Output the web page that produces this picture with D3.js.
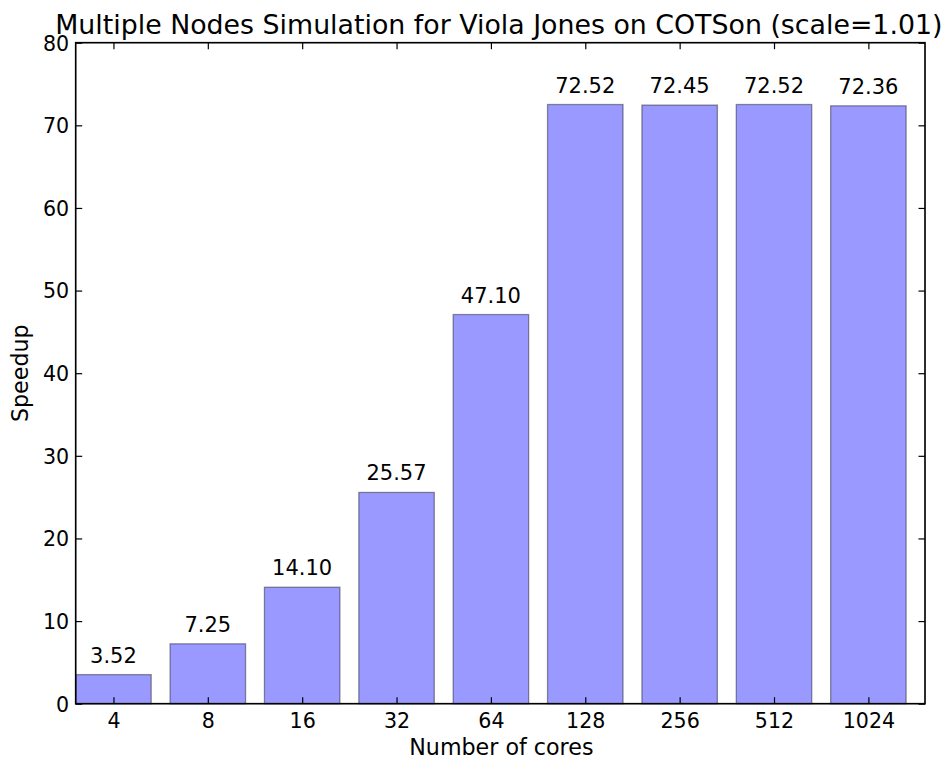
<!DOCTYPE html>
<html>
<head>
<meta charset="utf-8">
<script src="https://d3js.org/d3.v7.min.js"></script>
<style>
  html, body { margin: 0; padding: 0; background: #fff; }
  text { font-family: "DejaVu Sans", sans-serif; fill: #000; }
</style>
</head>
<body>
<svg id="chart" width="950" height="758"></svg>
<script>
// Speedup measured for each core count
const cores = ["4", "8", "16", "32", "64", "128", "256", "512", "1024"];
const speedup = [3.52, 7.25, 14.10, 25.57, 47.10, 72.52, 72.45, 72.52, 72.36];
const yTicks = [0, 10, 20, 30, 40, 50, 60, 70, 80];

const titleText = "Multiple Nodes Simulation for Viola Jones on COTSon (scale=1.01)";
const xLabelText = "Number of cores";
const yLabelText = "Speedup";

const svg = d3.select("#chart");
const plot = { left: 75.7, right: 925, top: 42.7, bottom: 703.7 };
const tickLen = 6.5;

// Bars centred on integer positions, width 0.8, with the usual margins
const x = d3.scaleLinear().domain([-0.4, cores.length - 0.4]).range([plot.left, plot.right]);
const y = d3.scaleLinear().domain([0, 80]).range([plot.bottom, plot.top]);
const barW = x(0.8) - x(0);

// bars
svg.append("g").selectAll("rect")
  .data(speedup)
  .join("rect")
  .attr("x", (d, i) => x(i - 0.4))
  .attr("y", d => y(d))
  .attr("width", barW)
  .attr("height", d => y(0) - y(d))
  .attr("fill", "blue")
  .attr("fill-opacity", 0.4)
  .attr("stroke", "black")
  .attr("stroke-opacity", 0.4)
  .attr("stroke-width", 1.3);

// value labels above bars
svg.append("g").selectAll("text")
  .data(speedup)
  .join("text")
  .attr("x", (d, i) => x(i))
  .attr("y", d => y(d) - 12)
  .attr("text-anchor", "middle")
  .style("font-size", "21px")
  .text(d => d.toFixed(2));

// axes with inward ticks on all four sides
const idx = d3.range(cores.length);
const bottomAxis = d3.axisBottom(x).tickValues(idx).tickFormat(i => cores[i])
  .tickSizeInner(-tickLen).tickSizeOuter(0).tickPadding(8);
const topAxis = d3.axisTop(x).tickValues(idx).tickFormat("")
  .tickSizeInner(-tickLen).tickSizeOuter(0);
const leftAxis = d3.axisLeft(y).tickValues(yTicks).tickFormat(d3.format("d"))
  .tickSizeInner(-tickLen).tickSizeOuter(0).tickPadding(6.5);
const rightAxis = d3.axisRight(y).tickValues(yTicks).tickFormat("")
  .tickSizeInner(-tickLen).tickSizeOuter(0);

function styleAxis(g) {
  g.select(".domain").remove();
  g.selectAll(".tick line").attr("stroke", "#000").attr("stroke-width", 1.2);
  g.selectAll(".tick text").style("font-size", "20.6px").attr("fill", "#000")
    .style("font-family", "DejaVu Sans, sans-serif");
}

svg.append("g").attr("transform", `translate(0,${plot.bottom})`).call(bottomAxis).call(styleAxis)
  .selectAll(".tick text").attr("dy", null).attr("y", null)
  .attr("transform", "translate(0,24.6)");
svg.append("g").attr("transform", `translate(0,${plot.top})`).call(topAxis).call(styleAxis);
svg.append("g").attr("transform", `translate(${plot.left},0)`).call(leftAxis).call(styleAxis)
  .selectAll(".tick text").attr("dy", "0.36em");
svg.append("g").attr("transform", `translate(${plot.right},0)`).call(rightAxis).call(styleAxis);

// frame
svg.append("rect")
  .attr("x", plot.left).attr("y", plot.top)
  .attr("width", plot.right - plot.left).attr("height", plot.bottom - plot.top)
  .attr("fill", "none").attr("stroke", "#000").attr("stroke-width", 1.65);

// title and axis labels
const cx = (plot.left + plot.right) / 2;
svg.append("text").attr("x", cx - 1.5).attr("y", 33.5).attr("text-anchor", "middle")
  .style("font-size", "26.8px").text(titleText);
svg.append("text").attr("x", cx + 1).attr("y", 755).attr("text-anchor", "middle")
  .style("font-size", "22.2px").text(xLabelText);
svg.append("text")
  .attr("transform", `translate(27.5,${(plot.top + plot.bottom) / 2}) rotate(-90)`)
  .attr("text-anchor", "middle")
  .style("font-size", "22.2px").text(yLabelText);
</script>
</body>
</html>
